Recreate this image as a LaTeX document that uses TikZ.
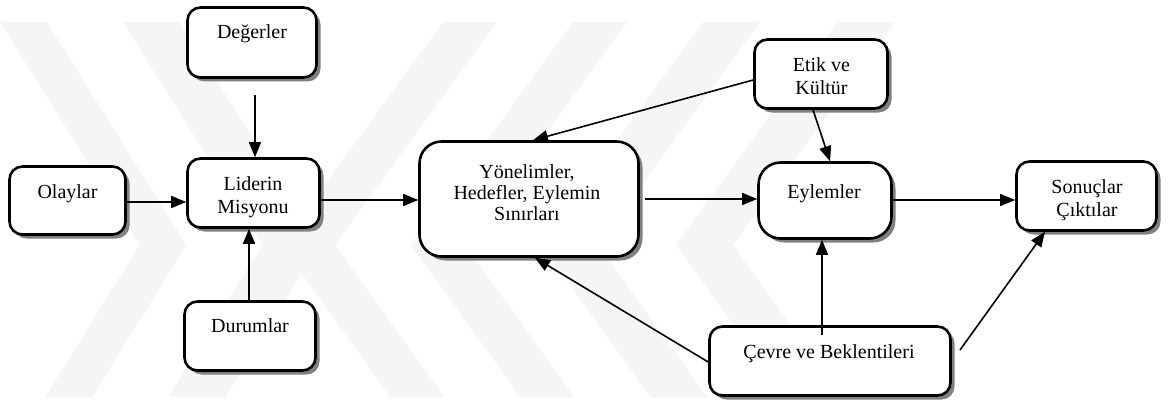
\documentclass[tikz,border=0pt]{standalone}
\usepackage{fontspec}
\setmainfont{Liberation Serif}
\usetikzlibrary{arrows.meta,shadows}
\begin{document}
\begin{tikzpicture}[x=1pt,y=-1pt,
  box/.style={draw, line width=2.6pt, rounded corners=13pt, fill=white, inner sep=0pt,
    drop shadow={shadow xshift=4pt, shadow yshift=-4pt, fill=black!50, opacity=1}},
  bigbox/.style={box, rounded corners=22pt},
  lbl/.style={anchor=base, inner sep=0pt, font=\fontsize{20}{23}\selectfont},
  conn/.style={line width=1.6pt, -{Triangle[length=15pt,width=12pt]}},
  wm/.style={fill=black!4, draw=none}]
\useasboundingbox (0,0) rectangle (1168,404);

% faint background chevrons
\fill[wm] (0,22) -- (139.5,245) -- (45.3,397) -- (92.3,397) -- (186.5,245) -- (47,22) -- cycle;
\fill[wm] (123,22) -- (262.5,245) -- (168.3,397) -- (225.3,397) -- (319.5,245) -- (180,22) -- cycle;
\fill[wm] (443,22) -- (281,245) -- (390.4,397) -- (444.4,397) -- (335,245) -- (497,22) -- cycle;
\fill[wm] (573,22) -- (411,245) -- (520.4,397) -- (574.4,397) -- (465,245) -- (627,22) -- cycle;
\fill[wm] (703,22) -- (541,245) -- (650.4,397) -- (707.4,397) -- (598,245) -- (760,22) -- cycle;
\fill[wm] (838,22) -- (676,245) -- (785.4,397) -- (842.4,397) -- (733,245) -- (895,22) -- cycle;

% boxes
\node[box, minimum width=129pt, minimum height=70pt] (deg) at (252,42.5) {};
\node[box, minimum width=116pt, minimum height=68pt] (ola) at (67.5,200.5) {};
\node[box, minimum width=132pt, minimum height=69pt] (lid) at (253.5,193) {};
\node[box, minimum width=131pt, minimum height=69pt] (dur) at (250,336) {};
\node[bigbox, minimum width=219pt, minimum height=115pt] (yon) at (529,199) {};
\node[box, minimum width=133pt, minimum height=69pt] (etk) at (821,74) {};
\node[bigbox, minimum width=133pt, minimum height=76pt] (eyl) at (825,200.5) {};
\node[box, minimum width=140pt, minimum height=69pt] (son) at (1086.5,196) {};
\node[box, minimum width=241pt, minimum height=69pt] (cev) at (830,361) {};

% labels
\node[lbl] (degT) at (252,39) {Değerler};
\node[lbl] (olaT) at (67.5,198) {Olaylar};
\node[lbl] (lidT) at (253,190) {\begin{tabular}[t]{@{}c@{}}Liderin\\Misyonu\end{tabular}};
\node[lbl] (durT) at (250,332) {Durumlar};
\node[lbl, font=\fontsize{20}{21.5}\selectfont] (yonT) at (527,178) {\begin{tabular}[t]{@{}c@{}}Yönelimler,\\Hedefler, Eylemin\\Sınırları\end{tabular}};
\node[lbl] (etkT) at (821.5,72) {\begin{tabular}[t]{@{}c@{}}Etik ve\\Kültür\end{tabular}};
\node[lbl] (eylT) at (824,198) {Eylemler};
\node[lbl] (sonT) at (1087,193) {\begin{tabular}[t]{@{}c@{}}Sonuçlar\\Çıktılar\end{tabular}};
\node[lbl] (cevT) at (829,358) {Çevre ve Beklentileri};

% helper points for connector ends
\coordinate (degout) at (255,95);
\coordinate (r202) at (0,202);
\coordinate (c249) at (249,0);
\coordinate (r200) at (0,200);
\coordinate (r80) at (0,80);
\coordinate (c533) at (533,0);
\coordinate (c813) at (813,0);
\coordinate (c830) at (830,0);
\coordinate (yonout) at (645,199);
\coordinate (cevup) at (822,335);
\coordinate (r362) at (0,362);
\coordinate (c535) at (535,0);
\coordinate (cevout) at (960,350);
\coordinate (c1045) at (1045,0);

% connectors
\draw[conn] (degout) -- (lid.north -| degout);
\draw[conn] (ola.east |- r202) -- (lid.west |- r202);
\draw[conn] (dur.north -| c249) -- (lid.south -| c249);
\draw[conn] (lid.east |- r200) -- (yon.west |- r200);
\draw[conn] (etk.west |- r80) -- (yon.north -| c533);
\draw[conn] (etk.south -| c813) -- (eyl.north -| c830);
\draw[conn] (yonout) -- (eyl.west |- yonout);
\draw[conn] (eyl.east |- r200) -- (son.west |- r200);
\draw[conn] (cevup) -- (eyl.south -| cevup);
\draw[conn] (cev.west |- r362) -- (yon.south -| c535);
\draw[conn] (cevout) -- (son.south -| c1045);
\end{tikzpicture}
\end{document}
